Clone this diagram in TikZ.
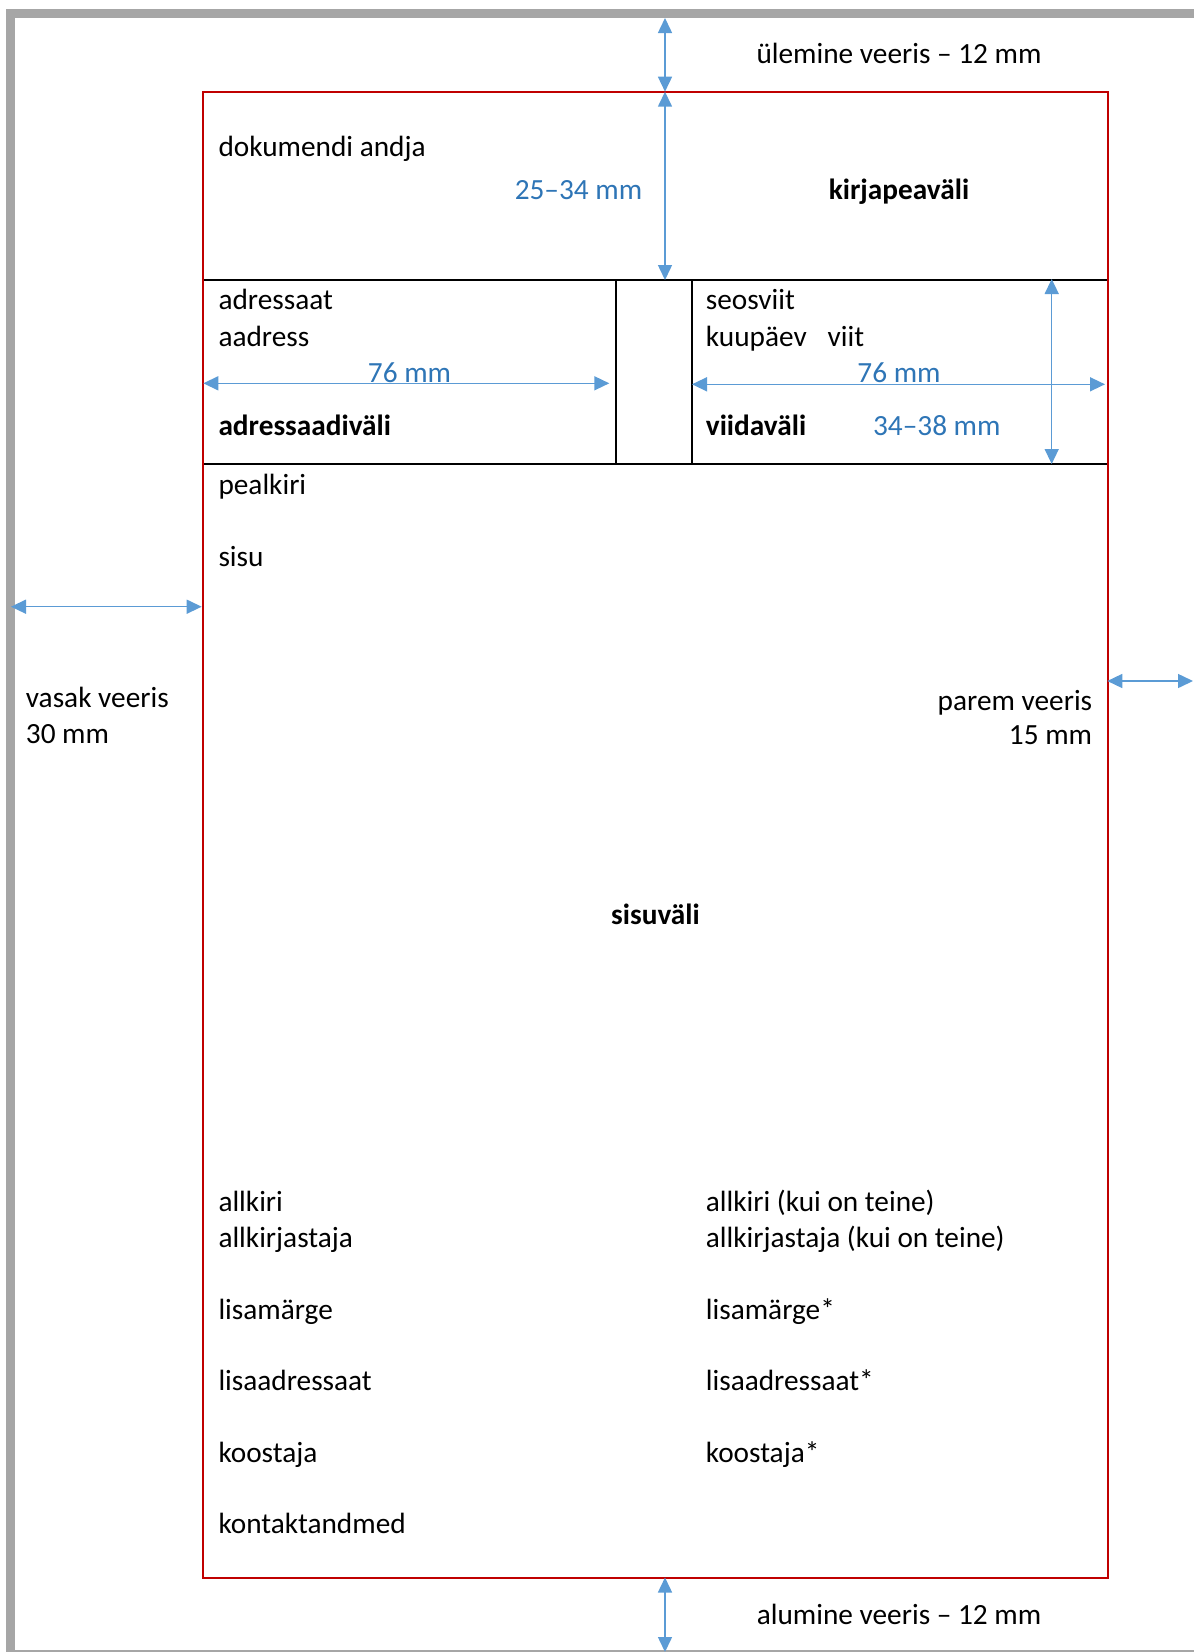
\documentclass[tikz,border=0pt]{standalone}
\usepackage{fontspec}
\setmainfont{Carlito}
\usetikzlibrary{arrows.meta}
\definecolor{framegray}{RGB}{166,166,166}
\definecolor{redline}{RGB}{192,0,0}
\definecolor{arrowblue}{RGB}{91,155,213}
\definecolor{textblue}{RGB}{46,117,182}
\begin{document}
\begin{tikzpicture}[x=1pt,y=-1pt,
  txt/.style={inner sep=0pt, font=\fontsize{29.3}{35}\selectfont},
  lt/.style={txt, anchor=base west},
  rt/.style={txt, anchor=base east},
  ct/.style={txt, anchor=base},
  boldt/.style={font=\fontsize{29.3}{35}\selectfont\bfseries},
  dimt/.style={text=textblue},
  dimarrow/.style={draw=arrowblue, line width=1.5pt,
    {Triangle[length=15pt,width=14pt,fill=arrowblue]}-{Triangle[length=15pt,width=14pt,fill=arrowblue]}},
  sepline/.style={draw=black, line width=2pt},
  pageframe/.style={draw=redline, line width=2pt},
]
\useasboundingbox (0,0) rectangle (1194,1652);
% page shadow frame
\fill[framegray] (6,9) rectangle (1194,18);
\fill[framegray] (6,9) rectangle (15,1652);
\fill[framegray] (15,1650) rectangle (1194,1652);

% key coordinates
\coordinate (TL) at (203.3,91.7);
\coordinate (BR) at (1107.7,1577.5);
\coordinate (h1L) at (203.3,280);
\coordinate (h1R) at (1107.7,280);
\coordinate (h2L) at (203.3,463.5);
\coordinate (h2R) at (1107.7,463.5);
\coordinate (v1T) at (616,280);
\coordinate (v1B) at (616,463.5);
\coordinate (v2T) at (692,280);
\coordinate (v2B) at (692,463.5);

% field lines
\draw[sepline] (h1L) -- (h1R);
\draw[sepline] (h2L) -- (h2R);
\draw[sepline] (v1T) -- (v1B);
\draw[sepline] (v2T) -- (v2B);
\draw[pageframe] (TL) rectangle (BR);

% dimension arrows
\coordinate (topA) at (665,18);
\coordinate (topB) at (665,91.7);
\coordinate (topC) at (665,280);
\coordinate (adrL) at (203.3,383.3);
\coordinate (adrR) at (609.3,383.3);
\coordinate (viiL) at (692,384.3);
\coordinate (viiR) at (1105,384.3);
\coordinate (viiT) at (1051.7,279);
\coordinate (viiB) at (1051.7,464);
\coordinate (lmL) at (11,606.7);
\coordinate (lmR) at (201.7,606.7);
\coordinate (rmL) at (1107.3,681);
\coordinate (rmR) at (1193,681);
\coordinate (botA) at (665,1577.5);
\coordinate (botB) at (665,1652);

\draw[dimarrow] (topA) -- (topB);
\draw[dimarrow] (topB) -- (topC);
\draw[dimarrow] (adrL) -- (adrR);
\draw[dimarrow] (viiL) -- (viiR);
\draw[dimarrow] (viiT) -- (viiB);
\draw[dimarrow] (lmL) -- (lmR);
\draw[dimarrow] (rmL) -- (rmR);
\draw[dimarrow] (botA) -- (botB);

% texts
\node[ct] (ulem) at (899,63.5) {ülemine veeris – 12 mm};
\node[lt] (andja) at (218.3,156) {dokumendi andja};
\node[rt, dimt] (kpdim) at (642.4,199) {25–34 mm};
\node[ct, boldt] (kp) at (899,199) {kirjapeaväli};

\node[lt] (adr) at (218.3,309.3) {adressaat};
\node[lt] (aadr) at (218.3,346) {aadress};
\node[ct, dimt] (adrdim) at (409.5,382) {76 mm};
\node[lt, boldt] (adrv) at (218.3,435) {adressaadiväli};

\node[lt] (seos) at (705.7,309.3) {seosviit};
\node[lt] (kuup) at (705.7,346) {kuupäev\hspace{21pt}viit};
\node[ct, dimt] (viidim) at (899,382.3) {76 mm};
\node[lt, boldt] (viiv) at (705.7,435) {viidaväli};
\node[ct, dimt] (viih) at (936.8,435) {34–38 mm};

\node[lt] (pealk) at (218.3,494) {pealkiri};
\node[lt] (sisu) at (218.3,566) {sisu};

\node[lt] (vasak) at (25.7,707) {vasak veeris};
\node[lt] (vasakmm) at (25.7,743) {30 mm};
\node[rt] (parem) at (1092.3,710) {parem veeris};
\node[rt] (paremmm) at (1092.3,744.3) {15 mm};

\node[ct, boldt] (sisuv) at (655.5,924) {sisuväli};

\node[lt] (allk1) at (218.3,1211) {allkiri};
\node[lt] (allkj1) at (218.3,1247) {allkirjastaja};
\node[lt] (lism1) at (218.3,1319) {lisamärge};
\node[lt] (lisa1) at (218.3,1390) {lisaadressaat};
\node[lt] (koos1) at (218.3,1462) {koostaja};
\node[lt] (kont) at (218.3,1533) {kontaktandmed};

\node[lt] (allk2) at (705.7,1211) {allkiri (kui on teine)};
\node[lt] (allkj2) at (705.7,1247) {allkirjastaja (kui on teine)};
\node[lt] (lism2) at (705.7,1319) {lisamärge*};
\node[lt] (lisa2) at (705.7,1390) {lisaadressaat*};
\node[lt] (koos2) at (705.7,1462) {koostaja*};

\node[ct] (alum) at (899,1624) {alumine veeris – 12 mm};
\end{tikzpicture}
\end{document}
